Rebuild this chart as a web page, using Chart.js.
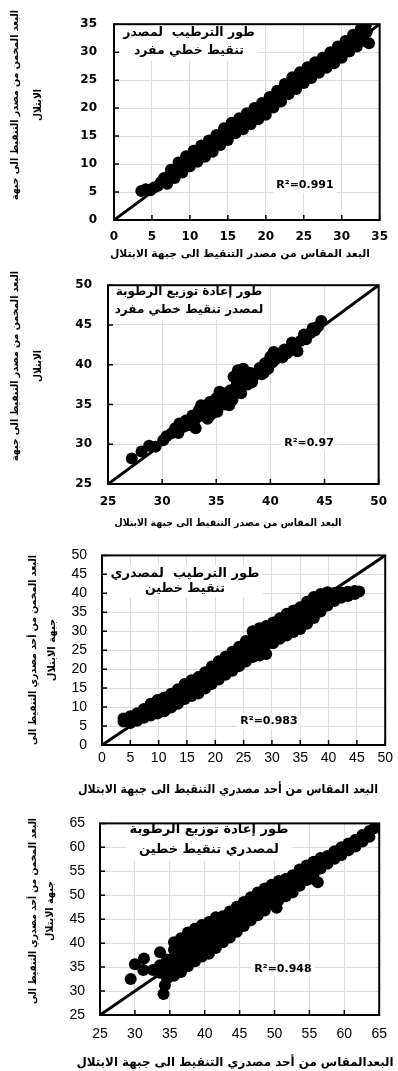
<!DOCTYPE html>
<html><head><meta charset="utf-8">
<script src="https://cdn.jsdelivr.net/npm/chart.js@4.4.1/dist/chart.umd.min.js"></script>
<style>
html,body{margin:0;padding:0;background:#fff;}
body{width:398px;height:1071px;position:relative;overflow:hidden;}
canvas{position:absolute;left:0;}
</style></head>
<body>
<canvas id="c1" width="398" height="262" style="top:0px"></canvas>
<canvas id="c2" width="398" height="270" style="top:262px"></canvas>
<canvas id="c3" width="398" height="268" style="top:532px"></canvas>
<canvas id="c4" width="398" height="271" style="top:800px"></canvas>
<script>
// ---------- tick labels ----------
const ticks1 = [0,5,10,15,20,25,30,35];
const ticks2 = [25,30,35,40,45,50];
const ticks3 = [0,5,10,15,20,25,30,35,40,45,50];
const ticks4 = [25,30,35,40,45,50,55,60,65];

// ---------- texts ----------
const yTitleSingle = ["البعد المخمن من مصدر التنقيط الى جبهة", "الابتلال"];
const xTitleSingle = "البعد المقاس من مصدر التنقيط الى جبهة الابتلال";
const yTitleDouble = ["البعد المخمن من أحد مصدري التنقيط الى", "جبهة الابتلال"];
const xTitleDouble3 = "البعد المقاس من أحد مصدري التنقيط الى جبهة الابتلال";
const xTitleDouble4 = "البعدالمقاس من أحد مصدري التنقيط الى جبهة الابتلال";
const note1 = ["طور الترطيب  لمصدر", "تنقيط خطي مفرد"];
const note2 = ["طور إعادة توزيع الرطوبة", "لمصدر تنقيط خطي مفرد"];
const note3 = ["طور الترطيب  لمصدري", "تنقيط خطين"];
const note4 = ["طور إعادة توزيع الرطوبة", "لمصدري تنقيط خطين"];
const r2Labels = ["R²=0.991", "R²=0.97", "R²=0.983", "R²=0.948"];

// ---------- data: [measured, estimated] ----------
const wettingSingle = [
 [3.6,5.2],[4.2,5.5],[4.8,5.3],[5.3,5.8],[5.8,6.1],[6.2,6.8],
 [7,6.5],[8,7.5],[9,8.5],[10,9.6],[11,10.4],[12,11.3],[13,12.2],[14,13.4],[15,14.3],[16,15.5],[17,16.2],[18,17.1],[19,18.0],[20,18.8],[21,20.1],[22,21.2],[23,22.5],[24,23.4],[25,24.5],[26,25.4],[27,26.3],[28,27.2],[29,28.0],[30,29.0],[31,30.1],[32,31.0],[33,32.0],[33.6,31.6],
 [6.6,7.5],[7.5,9.0],[8.5,10.3],[9.5,11.4],[10.5,12.4],[11.5,13.3],[12.5,14.2],[13.5,15.2],[14.5,16.4],[15.5,17.4],[16.5,18.2],[17.5,19.1],[18.5,20.0],[19.5,20.9],[20.5,22.0],[21.5,23.1],[22.5,24.3],[23.5,25.5],[24.5,26.4],[25.5,27.3],[26.5,28.2],[27.5,29.0],[28.5,30.0],[29.5,31.0],[30.5,32.0],[31.5,33.1],[32.5,34.1],[33.2,35.0],
 [7.3,7.9],[8.3,9.0],[9.3,10.1],[10.3,11.0],[11.3,11.9],[12.3,12.8],[13.3,13.9],[14.3,14.9],[15.3,15.9],[16.3,16.9],[17.3,17.7],[18.3,18.6],[19.3,19.5],[20.3,20.5],[21.3,21.6],[22.3,22.8],[23.3,23.9],[24.3,25.0],[25.3,26.0],[26.3,26.8],[27.3,27.7],[28.3,28.6],[29.3,29.6],[30.3,30.6],[31.3,31.6],[32.3,32.7],[33.3,33.6]
];
const redistSingle = [
 [27.2,28.2],[28.1,29.1],[28.8,29.8],[29.4,29.7],[30.1,30.5],[30.4,31.0],[30.9,31.4],[31.2,32.0],[31.6,32.6],[31.5,31.4],[32.0,32.2],[32.2,33.0],[32.6,32.8],[32.8,33.6],[33.1,32.0],[33.2,33.4],[33.4,34.3],[33.7,33.6],[33.9,34.8],[34.1,34.0],[34.4,35.3],[34.5,33.7],[34.8,34.6],[35.0,35.8],[35.1,34.1],[35.4,35.2],[35.6,36.4],[35.8,35.0],[36.1,35.8],[36.3,36.8],[36.5,35.6],[36.8,36.5],[36.6,38.5],[37.0,39.3],[37.2,37.4],[37.5,39.5],[37.6,38.2],[37.9,37.5],[38.1,39.0],[38.4,38.4],[38.7,38.9],[39.0,39.6],[39.2,38.8],[39.5,40.2],[39.8,39.5],[40.0,41.0],[40.3,41.6],[40.2,40.3],[40.6,40.8],[40.8,41.4],[41.1,40.9],[41.5,41.4],[41.8,41.8],[42.2,42.3],[42.5,41.7],[42.8,43.0],[43.1,43.8],[43.3,43.2],[43.7,44.0],[44.1,44.3],[44.4,44.8],[44.7,45.5],
 [32.4,32.4],[33.0,33.0],[33.6,34.9],[34.2,33.2],[34.9,35.2],[35.3,36.6],[35.9,36.2],[36.2,34.9],[36.9,37.6],[37.3,36.4],[38.3,37.8],[39.4,39.0],[41.3,41.9],[42.0,42.8],[43.9,44.6]
];
const wettingDouble = [
 [3.8,6.2],[3.8,7.0],[5.0,5.8],[5.0,7.6],[6.2,6.4],[6.2,8.4],[7.4,7.2],[7.4,9.5],
 [8.6,7.8],[8.6,9.3],[8.6,10.9],[9.8,8.3],[9.8,10.1],[9.8,11.9],[11.0,8.9],[11.0,10.6],[11.0,12.5],
 [12.2,9.9],[12.2,11.6],[12.2,13.5],[13.4,10.9],[13.4,12.8],[13.4,14.7],[14.6,12.1],[14.6,14.0],[14.6,16.1],
 [15.8,12.9],[15.8,15.0],[15.8,17.1],[17.0,13.6],[17.0,15.7],[17.0,17.9],[18.2,14.9],[18.2,17.0],[18.2,19.2],
 [19.4,16.1],[19.4,18.4],[19.4,20.7],[20.6,17.3],[20.6,19.8],[20.6,22.1],[21.8,18.5],[21.8,21.0],[21.8,23.3],
 [23.0,19.6],[23.0,22.1],[23.0,24.6],[24.2,20.8],[24.2,23.4],[24.2,25.9],[25.4,22.0],[25.4,24.6],[25.4,27.4],
 [26.6,23.2],[26.6,25.5],[26.6,27.9],[26.6,30.0],[27.8,23.6],[27.8,26.0],[27.8,28.4],[27.8,30.8],
 [29.0,24.0],[29.0,26.6],[29.0,29.0],[29.0,31.4],[30.2,26.8],[30.2,29.5],[30.2,32.3],[31.4,28.0],[31.4,30.6],[31.4,33.4],
 [32.6,28.9],[32.6,31.8],[32.6,34.6],[33.8,29.8],[33.8,32.6],[33.8,35.5],[35.0,30.6],[35.0,33.4],[35.0,36.3],
 [36.2,32.0],[36.2,35.0],[36.2,37.8],[37.4,33.5],[37.4,36.2],[37.4,39.0],[38.6,35.2],[38.6,37.6],[38.6,39.8],
 [39.8,36.8],[39.8,38.6],[39.8,40.3],[41.0,38.0],[41.0,40.1],[42.2,38.8],[42.2,40.2],[43.4,39.3],[43.4,40.4],
 [44.6,39.8],[44.6,40.6],[45.4,40.5]
];
const redistDouble = [
 [29.4,32.5],[30.0,35.6],[31.3,36.8],[31.2,34.4],[32.6,34.4],[33.6,38.1],[34.1,29.4],[34.3,31.2],[34.6,32.6],[50.3,47.4],[55.3,53.5],[56.2,52.7],
 [33.6,33.8],[33.6,35.4],[34.6,33.4],[34.6,35.0],[34.6,36.6],
 [35.6,33.2],[35.6,35.0],[35.6,36.8],[35.6,38.6],[35.6,40.2],
 [36.6,34.0],[36.6,35.8],[36.6,37.6],[36.6,39.4],[36.6,41.0],
 [37.6,35.2],[37.6,37.0],[37.6,38.8],[37.6,40.6],[37.6,42.2],
 [38.6,36.2],[38.6,38.0],[38.6,39.8],[38.6,41.6],[38.6,43.0],
 [39.6,37.2],[39.6,39.0],[39.6,40.8],[39.6,42.6],[39.6,43.8],
 [40.6,37.8],[40.6,39.6],[40.6,41.4],[40.6,43.0],[40.6,44.4],
 [41.6,39.0],[41.6,40.8],[41.6,42.6],[41.6,44.2],[41.6,45.4],
 [42.6,40.2],[42.6,42.0],[42.6,43.8],[42.6,45.6],
 [43.6,41.2],[43.6,43.0],[43.6,44.8],[43.6,46.6],
 [44.6,42.4],[44.6,44.2],[44.6,46.0],[44.6,47.6],
 [45.6,43.6],[45.6,45.4],[45.6,47.2],[45.6,48.6],
 [46.6,44.8],[46.6,46.6],[46.6,48.4],[46.6,49.6],
 [47.6,45.8],[47.6,47.6],[47.6,49.2],[47.6,50.6],
 [48.6,46.8],[48.6,48.6],[48.6,50.2],[48.6,51.4],
 [49.6,48.2],[49.6,49.8],[49.6,51.4],[49.6,52.2],
 [50.6,49.0],[50.6,50.8],[50.6,52.4],[50.6,53.0],
 [51.6,49.8],[51.6,51.6],[51.6,53.4],
 [52.6,50.6],[52.6,52.4],[52.6,54.2],
 [53.6,52.0],[53.6,53.6],[53.6,55.4],
 [54.6,53.2],[54.6,54.8],[54.6,56.2],
 [55.6,54.4],[55.6,56.0],[55.6,57.0],
 [56.6,55.6],[56.6,57.0],[56.6,57.8],
 [57.6,56.6],[57.6,58.2],[58.6,57.6],[58.6,59.2],[59.6,58.4],[59.6,60.0],
 [60.6,59.4],[60.6,60.8],[61.6,60.2],[61.6,61.6],[62.6,61.2],[62.6,62.6],[63.6,62.2],[63.6,63.4],[64.3,64.0]
];

// ---------- drawing helpers ----------
const AR = '"DejaVu Sans", sans-serif';
function textsPlugin(items) {
  return {
    id: 'texts',
    afterDatasetsDraw(chart) {
      const ctx = chart.ctx, a = chart.chartArea;
      const xs = chart.scales.x, ys = chart.scales.y;
      ctx.save();
      items.forEach(it => {
        ctx.save();
        ctx.font = it.font;
        ctx.textAlign = 'center';
        ctx.textBaseline = 'middle';
        ctx.direction = it.dir || 'rtl';
        ctx.translate(it.x, it.y);
        if (it.rot) ctx.rotate(it.rot * Math.PI / 180);
        const lh = it.lh || 14;
        const mw = it.mw || [];
        if (it.box) {
          const w = Math.max(...it.lines.map((l, i) => Math.min(ctx.measureText(l).width, mw[i] || 1e9)));
          ctx.fillStyle = '#fff';
          ctx.fillRect(-w / 2 - 3, -lh / 2 - 1, w + 6, lh * it.lines.length + 2);
        }
        ctx.fillStyle = '#000';
        it.lines.forEach((l, i) => {
          if (mw[i]) ctx.fillText(l, 0, i * lh, mw[i]); else ctx.fillText(l, 0, i * lh);
        });
        ctx.restore();
      });
      ctx.strokeStyle = '#000';
      ctx.lineWidth = 1.5;
      ctx.beginPath();
      xs.ticks.forEach(t => { const p = xs.getPixelForValue(t.value); ctx.moveTo(p, a.bottom); ctx.lineTo(p, a.bottom - 5); });
      ys.ticks.forEach(t => { const p = ys.getPixelForValue(t.value); ctx.moveTo(a.left, p); ctx.lineTo(a.left + 5, p); });
      ctx.stroke();
      ctx.lineWidth = 2;
      ctx.strokeRect(a.left, a.top, a.right - a.left, a.bottom - a.top);
      ctx.restore();
    }
  };
}

function build(id, g) {
  const lo = g.ticks[0], hi = g.ticks[g.ticks.length - 1];
  const axis = (isX) => ({
    type: 'linear', min: lo, max: hi,
    afterBuildTicks: s => { s.ticks = g.ticks.map(v => ({ value: v })); },
    afterFit: s => { if (isX) s.height = g.xh; else s.width = g.left; },
    ticks: { padding: isX ? g.xpad : g.ypad, font: g.tickFont, color: '#000', autoSkip: false, maxRotation: 0 },
    grid: { color: '#dcdcd6', lineWidth: 1, drawTicks: false },
    border: { display: false }
  });
  new Chart(document.getElementById(id), {
    type: 'scatter',
    data: { datasets: [
      { type: 'line', data: [{ x: lo, y: lo }, { x: hi, y: hi }], borderColor: '#000', borderWidth: 3, pointRadius: 0, order: 1 },
      { type: 'scatter', data: g.pts.map(p => ({ x: p[0], y: p[1] })), pointRadius: g.r, pointBackgroundColor: '#000', pointBorderWidth: 0, order: 2 }
    ]},
    options: {
      responsive: false, animation: false, devicePixelRatio: 1,
      layout: { padding: { top: g.top, right: 398 - g.right, left: 0, bottom: 0 } },
      plugins: { legend: { display: false }, tooltip: { enabled: false } },
      scales: { x: axis(true), y: axis(false) }
    },
    plugins: [textsPlugin(g.texts)]
  });
}

const boldTicks = { family: 'DejaVu Sans', size: 12, weight: 'bold' };
const plainTicks = { family: 'Liberation Sans', size: 14, weight: 'normal' };

build('c1', { pts: wettingSingle, ticks: ticks1, r: 6, top: 17, right: 387, left: 114, xh: 42, xpad: 10, ypad: 17, tickFont: boldTicks,
  texts: [
    { lines: yTitleSingle, mw: [190, 32], x: 15, y: 105, lh: 23, rot: -90, font: 'bold 10px ' + AR },
    { lines: [xTitleSingle], mw: [260], x: 240, y: 254, font: 'bold 11px ' + AR },
    { lines: note1, mw: [137, 110], x: 189, y: 33, lh: 18, box: true, font: 'bold 12.5px ' + AR },
    { lines: [r2Labels[0]], x: 305, y: 185, dir: 'ltr', box: true, font: 'bold 11px ' + AR }
  ]});
build('c2', { pts: redistSingle, ticks: ticks2, r: 6, top: 16, right: 388, left: 108, xh: 48, xpad: 11, ypad: 16, tickFont: boldTicks,
  texts: [
    { lines: yTitleSingle, mw: [190, 32], x: 15, y: 104, lh: 23, rot: -90, font: 'bold 10px ' + AR },
    { lines: [xTitleSingle], mw: [227], x: 228, y: 261, font: 'bold 10px ' + AR },
    { lines: note2, mw: [162, 150], x: 189, y: 30, lh: 18, box: true, font: 'bold 12px ' + AR },
    { lines: [r2Labels[1]], x: 309, y: 181, dir: 'ltr', box: true, font: 'bold 11px ' + AR }
  ]});
build('c3', { pts: wettingDouble, ticks: ticks3, r: 6, top: 17, right: 387, left: 102, xh: 55, xpad: 5, ypad: 15, tickFont: plainTicks,
  texts: [
    { lines: yTitleDouble, mw: [190, 67], x: 33, y: 118, lh: 19, rot: -90, font: 'bold 10px ' + AR },
    { lines: [xTitleDouble3], mw: [300], x: 228, y: 258, font: 'bold 12px ' + AR },
    { lines: note3, mw: [160, 80], x: 185, y: 42, lh: 15, box: true, font: 'bold 13px ' + AR },
    { lines: [r2Labels[2]], x: 269, y: 189, dir: 'ltr', box: true, font: 'bold 11px ' + AR }
  ]});
build('c4', { pts: redistDouble, ticks: ticks4, r: 6, top: 12, right: 387, left: 100, xh: 56, xpad: 11, ypad: 15, tickFont: plainTicks,
  texts: [
    { lines: yTitleDouble, mw: [186, 60], x: 33, y: 111, lh: 17, rot: -90, font: 'bold 10px ' + AR },
    { lines: [xTitleDouble4], mw: [317], x: 235, y: 263, font: 'bold 12px ' + AR },
    { lines: note4, mw: [162, 140], x: 209, y: 30, lh: 20, box: true, font: 'bold 13px ' + AR },
    { lines: [r2Labels[3]], x: 283, y: 169, dir: 'ltr', box: true, font: 'bold 11px ' + AR }
  ]});
</script>
</body></html>
